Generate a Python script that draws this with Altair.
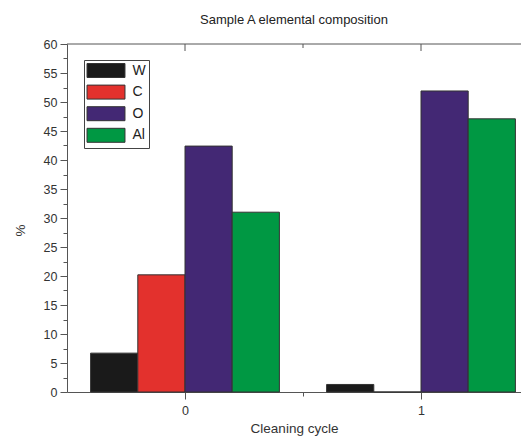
import altair as alt
import pandas as pd

cycles = [0, 1]
elements = ["W", "C", "O", "Al"]
w_vals = [6.7, 1.3]
c_vals = [20.2, 0.0]
o_vals = [42.4, 51.9]
al_vals = [31.0, 47.1]
colors = ["#1a1a1a", "#e3312d", "#432874", "#009843"]
y_ticks = [i * 2.5 for i in range(25)]
x_ticks = [0, 0.5, 1]
top_major = [0, 1]
top_minor = [0.5]

series = {"W": w_vals, "C": c_vals, "O": o_vals, "Al": al_vals}
rows = []
for i, el in enumerate(elements):
    for j, cyc in enumerate(cycles):
        off = (i - 1.5) * 0.2
        rows.append({"cycle": cyc, "element": el, "value": series[el][j],
                     "x0": cyc + off - 0.1, "x1": cyc + off + 0.1})
df = pd.DataFrame(rows)

W, H = 454, 348
FONT = "Liberation Sans"
xscale = alt.Scale(domain=[-0.5, -0.5 + W / 236.0], nice=False, zero=False)
yscale = alt.Scale(domain=[0, 60], nice=False)

xaxis = alt.Axis(values=x_ticks, format="~g",
                 labelExpr="datum.value == 0.5 ? '' : datum.label",
                 tickSize={"condition": {"test": "datum.value == 0.5", "value": 4}, "value": 7},
                 grid=False, labelFontSize=12.5, labelPadding=5, labelColor="#333",
                 domainColor="#555", tickColor="#555", titleFontSize=13.5,
                 titleFontWeight="normal", titleColor="#333", titleBaseline="alphabetic",
                 titleY=40, labelFont=FONT, titleFont=FONT)
yaxis = alt.Axis(values=y_ticks, labelExpr="datum.value % 5 == 0 ? datum.label : ''",
                 tickSize={"condition": {"test": "datum.value % 5 != 0", "value": 4}, "value": 7},
                 grid=False, labelFontSize=12.5, labelPadding=3, labelColor="#333",
                 domainColor="#555", tickColor="#555", titleFontSize=13.5,
                 titleFontWeight="normal", titleColor="#333", titleX=-47, titleY=186,
                 titleAngle=-90, titleAlign="center", titleBaseline="middle",
                 labelFont=FONT, titleFont=FONT)

bars = alt.Chart(df).mark_bar(stroke="#333", strokeWidth=1).encode(
    x=alt.X("x0:Q", scale=xscale, axis=xaxis, title="Cleaning cycle"),
    x2="x1:Q",
    y=alt.Y("value:Q", scale=yscale, axis=yaxis, title="%"),
    y2=alt.datum(0),
    fill=alt.Fill("element:N", scale=alt.Scale(domain=elements, range=colors),
                  legend=alt.Legend(title=None, orient="none", legendX=17, legendY=16,
                                    symbolType="M-2.71,-1H2.71V1H-2.71Z", symbolSize=196,
                                    symbolStrokeColor="#333", symbolStrokeWidth=1,
                                    symbolOffset=11.5,
                                    labelFontSize=14, labelFont=FONT, labelColor="#222",
                                    strokeColor="#444", padding=3, rowPadding=2.6,
                                    labelOffset=19, symbolOpacity=1)),
)

top_line = alt.Chart(pd.DataFrame({"a": [0]})).mark_rule(color="#555").encode(
    x=alt.value(0), x2=alt.value(W), y=alt.value(0))
tmaj = alt.Chart(pd.DataFrame({"x0": top_major})).mark_rule(color="#555").encode(
    x=alt.X("x0:Q", scale=xscale, axis=xaxis, title="Cleaning cycle"),
    y=alt.value(0), y2=alt.value(7))
tmin = alt.Chart(pd.DataFrame({"x0": top_minor})).mark_rule(color="#555").encode(
    x=alt.X("x0:Q", scale=xscale, axis=xaxis, title="Cleaning cycle"),
    y=alt.value(0), y2=alt.value(4))

chart = alt.layer(bars, top_line, tmaj, tmin).properties(
    width=W, height=H,
    title=alt.TitleParams("Sample A elemental composition", fontSize=13, font=FONT,
                          fontWeight="normal", color="#222", frame="group",
                          anchor="middle", baseline="alphabetic", offset=1),
    padding={"left": 59, "top": 36, "right": 0, "bottom": 44},
    autosize="none",
).configure_view(stroke=None)

chart.save("out.html", embed_options={"renderer": "svg", "actions": False})
